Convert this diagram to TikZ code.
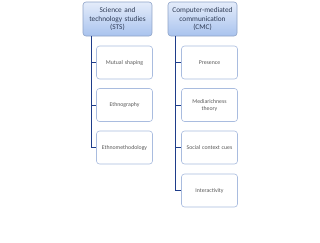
\documentclass[tikz,border=0pt]{standalone}
\usepackage{fontspec}
\setmainfont{Carlito}
\definecolor{pbord}{HTML}{8EA3C8}
\definecolor{ptop}{HTML}{E4ECFA}
\definecolor{pbot}{HTML}{A9C3EE}
\definecolor{ptext}{HTML}{2E3B55}
\definecolor{cbord}{HTML}{A9BCDF}
\definecolor{ctext}{HTML}{595959}
\definecolor{lnk}{HTML}{1F3D8A}
\begin{document}
\begin{tikzpicture}[x=1pt,y=-1pt,
  parentbox/.style={draw=pbord,line width=0.6pt,rounded corners=3pt,top color=ptop,bottom color=pbot,
    minimum width=69pt,minimum height=34pt,inner sep=1pt,text width=67pt,align=center,
    font=\fontsize{7.3}{8.5}\selectfont,text=ptext},
  childbox/.style={draw=cbord,line width=0.6pt,rounded corners=3pt,fill=white,
    minimum width=55pt,minimum height=33pt,inner sep=1pt,text width=54pt,align=center,
    font=\fontsize{5.8}{7}\selectfont,text=ctext},
  link/.style={draw=lnk,line width=0.9pt}]
\useasboundingbox (0,0) rectangle (320,242);
\fill[white] (0,0) rectangle (320,242);
\node[parentbox] (p1) at (117.5,19) {Science and\\technology studies\\(STS)};
\node[parentbox] (p2) at (202.5,19) {Computer-mediated\\communication\\(CMC)};
\node[childbox] (a1) at (124.5,62.5) {Mutual shaping};
\node[childbox] (a2) at (124.5,105) {Ethnography};
\node[childbox] (a3) at (124.5,147.5) {Ethnomethodology};
\node[childbox] (b1) at (209.5,62.5) {Presence};
\node[childbox] (b2) at (209.5,105) {Mediarichness\\theory};
\node[childbox] (b3) at (209.5,147.5) {Social context cues};
\node[childbox] (b4) at (209.5,190.5) {Interactivity};
\coordinate (t1) at (91,0);
\coordinate (t2) at (175,0);
\foreach \c in {a1,a2,a3} \draw[link] (p1.south -| t1) |- (\c.west);
\foreach \c in {b1,b2,b3,b4} \draw[link] (p2.south -| t2) |- (\c.west);
\end{tikzpicture}
\end{document}
